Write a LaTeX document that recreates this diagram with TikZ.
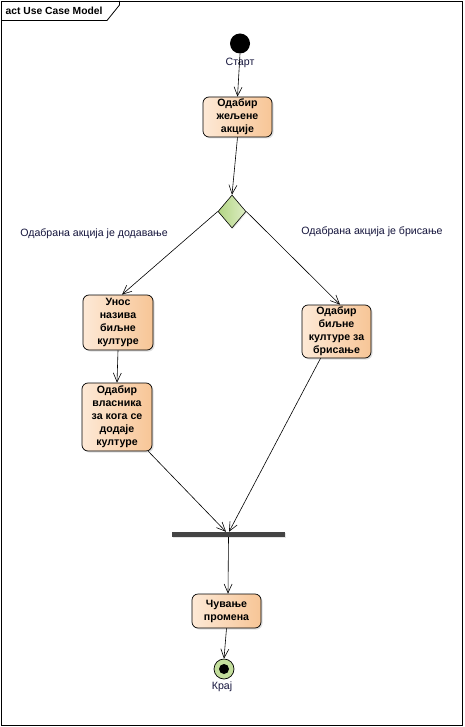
\documentclass[tikz,border=0pt]{standalone}
\usepackage{fontspec}
\setmainfont{Liberation Sans}
\usetikzlibrary{shapes.geometric,arrows.meta,shadows}
\definecolor{actL}{HTML}{FDE9D6}
\definecolor{actR}{HTML}{F7C596}
\definecolor{decL}{HTML}{B3D584}
\definecolor{decR}{HTML}{DDEDC4}
\definecolor{endG}{HTML}{C3DE9C}
\definecolor{lbl}{HTML}{14143C}
\definecolor{barC}{HTML}{444444}
\begin{document}
\begin{tikzpicture}[x=1pt,y=-1pt,
  actbox/.style={draw=black, line width=0.7pt, rounded corners=6pt, left color=actL, right color=actR,
    minimum width=69pt, inner sep=1pt, align=center, font=\fontsize{10.6}{13}\selectfont\bfseries,
    drop shadow={opacity=0.25, shadow xshift=1.5pt, shadow yshift=-1.5pt}},
  flow/.style={draw=black, line width=0.6pt, -{Straight Barb[length=9pt,width=8pt,line width=0.6pt]}},
  lab/.style={font=\fontsize{10.6}{12}\selectfont, text=lbl, inner sep=0pt}]
\useasboundingbox (0,0) rectangle (464,727);
\fill[white] (0,0) rectangle (464,727);
% frame
\node[draw=black, line width=0.8pt, minimum width=461pt, minimum height=724pt, inner sep=0pt, anchor=north west] (frame) at (1,1) {};
\coordinate (tabA) at (1,20.5);
\coordinate (tabB) at (107,20.5);
\coordinate (tabC) at (119.5,5);
\coordinate (tabD) at (119.5,1);
\draw[line width=0.8pt] (tabA) -- (tabB) -- (tabC) -- (tabD);
\node[anchor=west, font=\fontsize{10.3}{12}\selectfont\bfseries, inner sep=0pt] (title) at (5.5,11) {act Use Case Model};
% nodes
\node[circle, fill=black, minimum size=20pt, inner sep=0pt] (start) at (240,43.5) {};
\node[lab] (startl) at (240,62.5) {Старт};
\node[actbox, minimum height=40pt] (a1) at (237.5,117) {Одабир\\жељене\\акције};
\node[diamond, draw=black, line width=0.6pt, left color=decL, right color=decR, minimum width=28pt, minimum height=33pt, inner sep=0pt, drop shadow={opacity=0.2, shadow xshift=1pt, shadow yshift=-1pt}] (dec) at (232,211.5) {};
\node[lab] (gl) at (94,233.5) {Одабрана акција је додавање};
\node[lab] (gr) at (372,232) {Одабрана акција је брисање};
\node[actbox, minimum width=70pt, minimum height=55pt] (unos) at (118,322.5) {Унос\\назива\\биљне\\културе};
\node[actbox, minimum height=53pt] (bris) at (336.5,331.5) {Одабир\\биљне\\културе за\\брисање};
\node[actbox, minimum width=70pt, minimum height=68pt] (vlas) at (117,417) {Одабир\\власника\\за кога се\\додаје\\културе};
\node[fill=barC, minimum width=113pt, minimum height=5pt, inner sep=0pt, drop shadow={opacity=0.2, shadow xshift=1pt, shadow yshift=-1pt}] (bar) at (228.5,534.5) {};
\node[actbox, minimum height=34pt] (cuv) at (226.5,611) {Чување\\промена};
\node[circle, draw=black, line width=0.7pt, fill=endG, minimum size=20pt, inner sep=0pt] (end) at (224,669) {};
\node[circle, fill=black, minimum size=10pt, inner sep=0pt] (endin) at (end.center) {};
\node[lab] (endl) at (222,687) {Крај};
% flows
\draw[flow] (start.south) -- (a1.north);
\draw[flow] (a1.south) -- (dec.north);
\draw[flow] (dec.west) -- ([xshift=4pt]unos.north);
\draw[flow] (dec.east) -- ([xshift=3.5pt]bris.north);
\draw[flow] (unos.south) -- (vlas.north);
\draw[flow] ([xshift=-4pt]vlas.south east) -- ([xshift=-2.5pt]bar.north);
\draw[flow] ([xshift=-16pt]bris.south) -- ([xshift=0.5pt]bar.north);
\draw[flow] (bar.south) -- ([xshift=1.5pt]cuv.north);
\draw[flow] (cuv.south) -- (end.north);
\end{tikzpicture}
\end{document}
